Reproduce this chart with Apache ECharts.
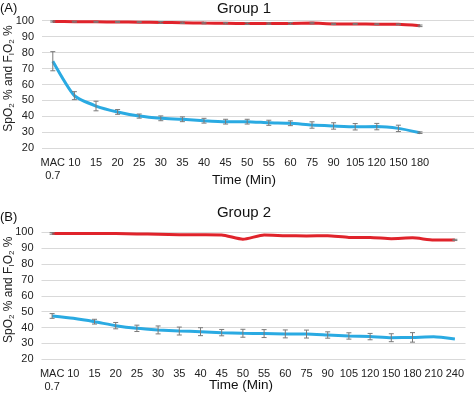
<!DOCTYPE html>
<html><head><meta charset="utf-8">
<script src="https://cdn.jsdelivr.net/npm/echarts@6/dist/echarts.min.js"></script>
<style>html,body{margin:0;padding:0;background:#fff}#c{width:474px;height:393px}</style>
</head><body><div id="c"></div>
<script>
var catsA = ['MAC\n0.7','10','15','20','25','30','35','40','45','50','55','60','75','90','105','120','150','180','',''];
var catsB = ['MAC\n0.7','10','15','20','25','30','35','40','45','50','55','60','75','90','105','120','150','180','210','240'];
var yTicks = [20,30,40,50,60,70,80,90,100];

var spo2A = [99.5,99.4,99.3,99.2,99.1,98.9,98.7,98.5,98.4,98.2,98.2,98.3,98.5,98.0,98.0,97.8,97.7,96.8];
var spo2AErr = [0.4,0.3,0.3,0.3,0.3,0.6,0.5,0.5,0.5,0.6,0.5,0.6,0.5,0.4,0.3,0.3,0.3,0.5];
var fio2A = [74.6,53.0,46.5,42.8,40.2,38.8,38.2,37.3,36.7,36.7,36.0,35.7,34.6,34.0,33.5,33.6,32.5,29.8];
var fio2AErr = [6.0,2.5,3.0,1.5,1.3,1.5,1.5,1.5,1.5,1.5,1.6,1.5,2.0,2.0,2.0,2.0,2.0,0.5];

var spo2B = [99.3,99.2,99.2,99.2,99.0,98.8,98.5,98.4,98.3,95.6,98.3,97.9,97.7,97.8,96.8,96.8,96.0,96.5,95.2,95.2];
var spo2BErr = [0.5,0,0,0,0,0,0,0,0,0,0,0,0,0,0,0,0,0,0,0.4];
var fio2B = [47.3,45.8,43.7,41.2,39.5,38.5,37.8,37.4,36.8,36.4,36.2,36.0,35.9,35.3,34.7,34.3,33.6,33.8,34.2,32.8];
var fio2BErr = [1.5,0,1.5,2.0,2.0,2.5,2.5,2.5,2.0,2.5,2.5,2.5,2.5,2.0,2.0,2.0,2.5,3.0,0,0];

var RED = '#e0232b', BLUE = '#2aaae2', ERR = '#7a7a7a';
var FONT = '"Liberation Sans", Arial, sans-serif';

function errSeries(xi, yi, vals, errs){
  var d = vals.map(function(v,i){ return [i, v - errs[i], v + errs[i]]; }).filter(function(d,i){return errs[i] > 0;});
  return {
    type:'custom', xAxisIndex:xi, yAxisIndex:yi, z:5, silent:true,
    renderItem:function(params, api){
      var x = api.value(0);
      var lo = api.coord([x, api.value(1)]);
      var hi = api.coord([x, api.value(2)]);
      var w = 2.5;
      var st = {stroke:ERR, lineWidth:1};
      return {type:'group', children:[
        {type:'line', shape:{x1:lo[0],y1:lo[1],x2:hi[0],y2:hi[1]}, style:st},
        {type:'line', shape:{x1:lo[0]-w,y1:lo[1],x2:lo[0]+w,y2:lo[1]}, style:st},
        {type:'line', shape:{x1:hi[0]-w,y1:hi[1],x2:hi[0]+w,y2:hi[1]}, style:st}
      ]};
    },
    encode:{x:0, y:[1,2]},
    data:d
  };
}

function lineSeries(xi, yi, vals, color){
  return {type:'line', xAxisIndex:xi, yAxisIndex:yi, data:vals, symbol:'none', smooth:0.2,
    lineStyle:{color:color, width:3}, z:3};
}

function xAx(gi, cats){
  return {type:'category', gridIndex:gi, data:cats, boundaryGap:true,
    axisLine:{show:false}, axisTick:{show:false},
    axisLabel:{interval:0, color:'#222', fontSize:11, fontFamily:FONT, margin:8, lineHeight:13}};
}
function yAx(gi){
  return {type:'value', gridIndex:gi, min:20, max:100, interval:10,
    axisLine:{show:false}, axisTick:{show:false},
    axisLabel:{color:'#222', fontSize:11, fontFamily:FONT, margin:8,
      formatter:function(v){ return yTicks.indexOf(v) >= 0 ? String(v) : ''; }},
    splitLine:{lineStyle:{color:'#d9d9d9', width:1}},
    name:'SpO{s|2} % and F{s|I}O{s|2} %', nameLocation:'middle', nameGap:26, nameRotate:90,
    nameMoveOverlap:false,
    nameTextStyle:{color:'#222', fontSize:12, fontFamily:FONT, padding:[0,0,0,12],
      rich:{s:{fontSize:8, fontFamily:FONT, color:'#222', padding:[6,0,0,0]}}}};
}

function txt(s, x, y, size, align){
  return {type:'text', x:x, y:y, silent:true,
    style:{text:s, fill:'#111', font:size + 'px ' + FONT, textAlign:align || 'center', textVerticalAlign:'middle'}};
}

var chart = echarts.init(document.getElementById('c'), null, {renderer:'canvas'});
chart.setOption({
  animation:false,
  graphic:[
    txt('Group 1', 244, 9, 15),
    txt('Group 2', 244, 213, 15),
    txt('(A)', 0, 8, 13, 'left'),
    txt('(B)', 0, 217, 13, 'left'),
    txt('Time (Min)', 244, 180, 13.5),
    txt('Time (Min)', 241, 385, 13.5)
  ],
  grid:[
    {left:42, top:20.7, width:432, height:127.6, containLabel:false, outerBoundsMode:'none'},
    {left:41.5, top:232.3, width:424, height:127, containLabel:false, outerBoundsMode:'none'}
  ],
  xAxis:[xAx(0, catsA), xAx(1, catsB)],
  yAxis:[yAx(0), yAx(1)],
  series:[
    lineSeries(0,0,spo2A,RED), lineSeries(0,0,fio2A,BLUE),
    errSeries(0,0,spo2A,spo2AErr), errSeries(0,0,fio2A,fio2AErr),
    lineSeries(1,1,spo2B,RED), lineSeries(1,1,fio2B,BLUE),
    errSeries(1,1,spo2B,spo2BErr), errSeries(1,1,fio2B,fio2BErr)
  ]
});
</script></body></html>
